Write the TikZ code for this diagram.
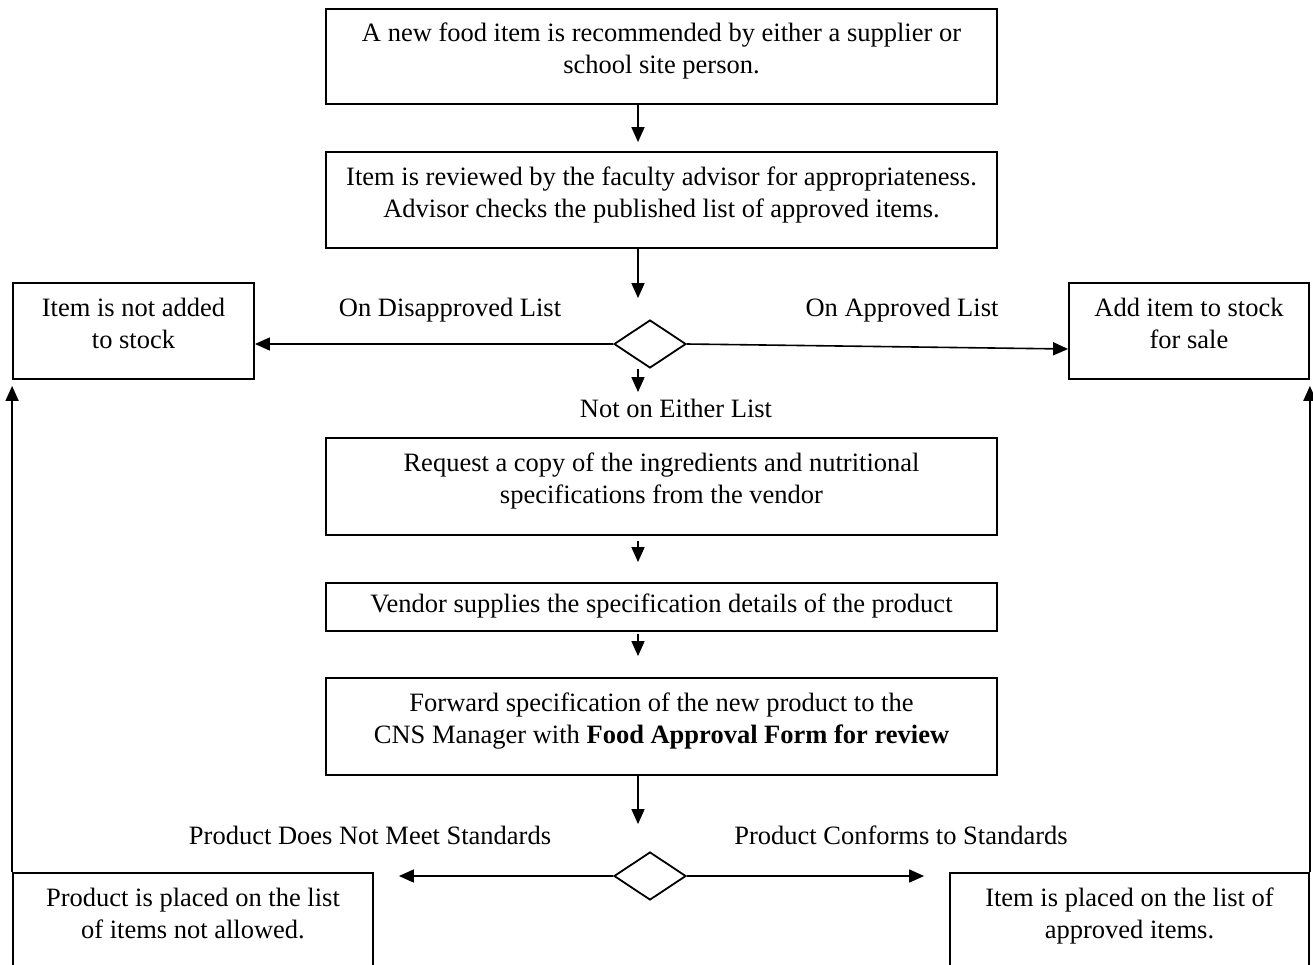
\documentclass[tikz,border=0pt]{standalone}
\usepackage{fontspec}
\setmainfont{Liberation Serif}
\usetikzlibrary{arrows.meta,shapes.geometric}
\begin{document}
\begin{tikzpicture}[x=1pt,y=-1pt,
  every node/.style={font=\fontsize{26.5}{32}\selectfont},
  box/.style={draw,line width=1.8pt,align=center,inner sep=0pt,minimum height=96pt,text depth=16pt},
  dec/.style={draw,line width=1.8pt,diamond,inner sep=0pt,minimum width=72pt,minimum height=48pt},
  lbl/.style={inner sep=0pt},
  arr/.style={line width=1.6pt,-{Triangle[length=15pt,width=13pt]}}]
\useasboundingbox (0,0) rectangle (1313,964);
\fill[white] (0,0) rectangle (1313,964);
\clip (0,0) rectangle (1313,964);
\coordinate (ax) at (638,0);
% boxes
\node[box,minimum width=671pt,minimum height=95pt] (top) at (661.5,56.5)
  {A new food item is recommended by either a supplier or\\school site person.};
\node[box,minimum width=671pt] (rev) at (661.5,200)
  {Item is reviewed by the faculty advisor for appropriateness.\\Advisor checks the published list of approved items.};
\node[dec] (d1) at (650,344) {};
\node[box,minimum width=241pt] (lbox) at (133.5,331) {Item is not added\\to stock};
\node[box,minimum width=240pt] (rbox) at (1189,331) {Add item to stock\\for sale};
\node[box,minimum width=671pt,minimum height=97pt] (req) at (661.5,486.5)
  {Request a copy of the ingredients and nutritional\\specifications from the vendor};
\node[box,minimum width=671pt,minimum height=48pt,text depth=7pt] (vend) at (661.5,607)
  {Vendor supplies the specification details of the product};
\node[box,minimum width=671pt,minimum height=97pt] (fwd) at (661.5,726.5)
  {Forward specification of the new product to the\\CNS Manager with \textbf{Food Approval Form for review}};
\node[dec] (d2) at (650,876) {};
\node[box,minimum width=360pt,minimum height=97pt] (bl) at (193,921.5)
  {Product is placed on the list\\of items not allowed.};
\node[box,minimum width=359pt,minimum height=97pt] (br) at (1129.5,921.5)
  {Item is placed on the list of\\approved items.};
% labels
\node[lbl] (l1) at (450,310) {On Disapproved List};
\node[lbl] (l2) at (902,310) {On Approved List};
\node[lbl] (l3) at (676,408) {Not on Either List};
\node[lbl] (l4) at (370,835) {Product Does Not Meet Standards};
\node[lbl] (l5) at (901,835) {Product Conforms to Standards};
% connectors
\draw[arr,shorten >=9pt] (top.south -| ax) -- (rev.north -| ax);
\draw[arr,shorten >=21pt] (rev.south -| ax) -- (d1.north -| ax);
\draw[arr] (d1.west) -- (d1.west -| lbox.east);
\draw[arr] (d1.east) -- ([yshift=-18pt]rbox.west);
\draw[arr,shorten >=45pt] (d1.south -| ax) -- (req.north -| ax);
\draw[arr,shorten <=5pt,shorten >=20pt] (req.south -| ax) -- (vend.north -| ax);
\draw[arr,shorten <=2pt,shorten >=21pt] (vend.south -| ax) -- (fwd.north -| ax);
\draw[arr,shorten >=27pt] (fwd.south -| ax) -- (d2.north -| ax);
\draw[arr,shorten >=25pt] (d2.west) -- (d2.west -| bl.east);
\draw[arr,shorten >=25pt] (d2.east) -- (d2.east -| br.west);
\draw[arr,shorten >=6pt] (bl.north west) -- (lbox.south west);
\draw[arr,shorten >=6pt] (br.north east) -- (rbox.south east);
\end{tikzpicture}
\end{document}
